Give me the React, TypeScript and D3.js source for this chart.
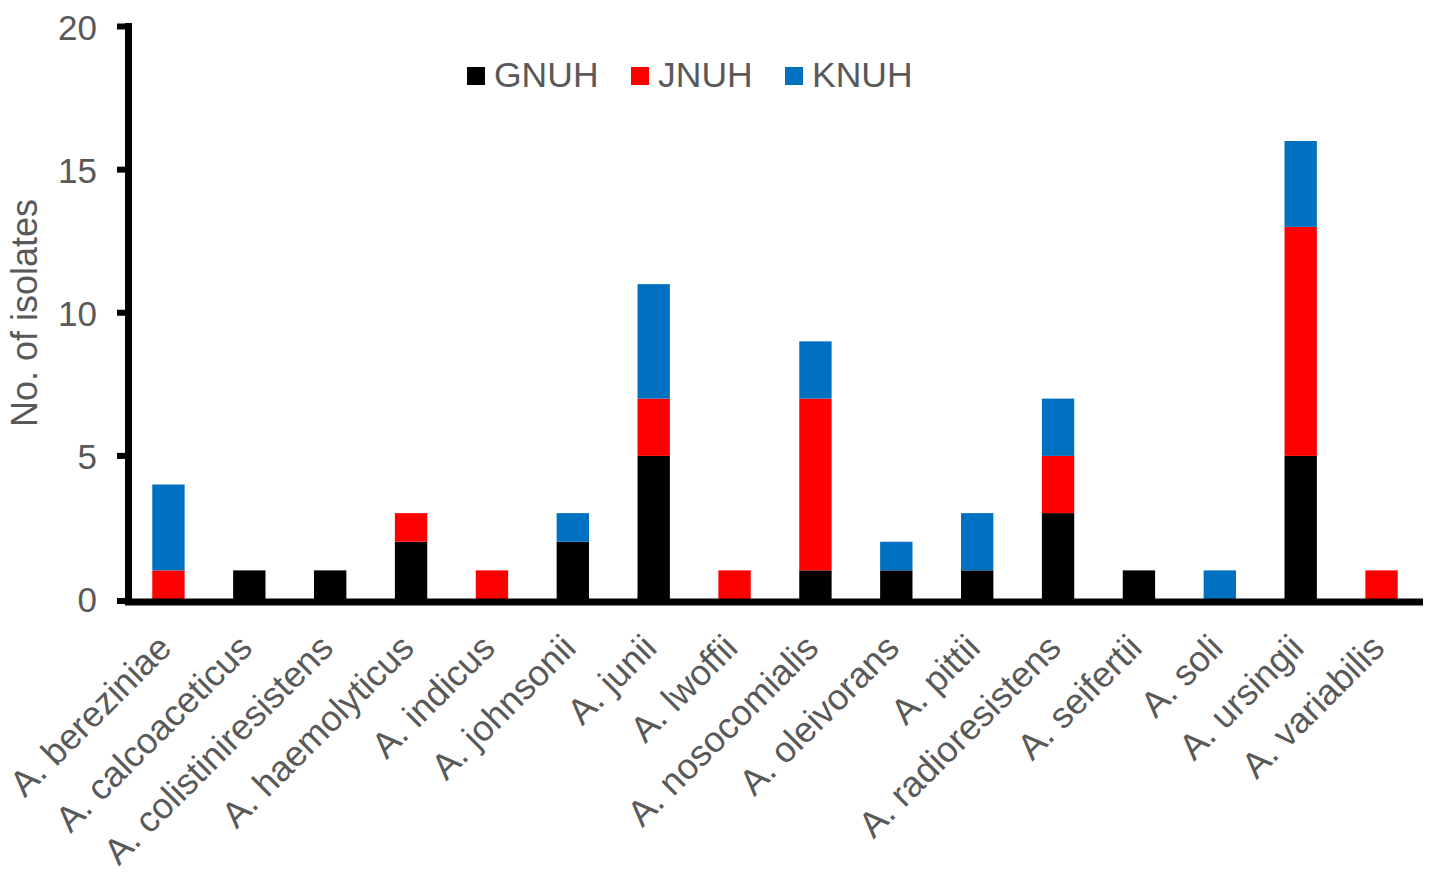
import React from 'react';
import * as d3 from 'd3';

const species = [
  'A. bereziniae', 'A. calcoaceticus', 'A. colistiniresistens', 'A. haemolyticus',
  'A. indicus', 'A. johnsonii', 'A. junii', 'A. lwoffii', 'A. nosocomialis',
  'A. oleivorans', 'A. pittii', 'A. radioresistens', 'A. seifertii', 'A. soli',
  'A. ursingii', 'A. variabilis',
];
const gnuh = [0, 1, 1, 2, 0, 2, 5, 0, 1, 1, 1, 3, 1, 0, 5, 0];
const jnuh = [1, 0, 0, 1, 1, 0, 2, 1, 6, 0, 0, 2, 0, 0, 8, 1];
const knuh = [3, 0, 0, 0, 0, 1, 4, 0, 2, 1, 2, 2, 0, 1, 3, 0];
const seriesNames = ['GNUH', 'JNUH', 'KNUH'];
const colors = ['#000000', '#ff0000', '#0070c0'];
const yTicks = [0, 5, 10, 15, 20];

const W = 1437;
const H = 882;
const gray = '#595959';
const font = 'Arial, "Liberation Sans", sans-serif';

export default function App() {
  // rows for the stack
  const rows = species.map((s, i) => ({ name: s, GNUH: gnuh[i], JNUH: jnuh[i], KNUH: knuh[i] }));
  const stacked = d3.stack<any>().keys(seriesNames)(rows);

  const x = d3.scaleBand().domain(species).range([128, 1422]).paddingInner(0.6).paddingOuter(0.3);
  const y = d3.scaleLinear().domain([0, 20]).range([599, 26.5]);

  return (
    <svg width={W} height={H} style={{ position: 'absolute', left: 0, top: 0, background: '#fff' }}>
      {stacked.map((layer, li) => (
        <g key={layer.key} fill={colors[li]}>
          {layer.map((d, i) =>
            d[1] - d[0] > 0 ? (
              <rect key={i} x={x(species[i])} width={x.bandwidth()} y={y(d[1])} height={y(d[0]) - y(d[1])} />
            ) : null
          )}
        </g>
      ))}

      {/* axes */}
      <line x1={128.5} x2={128.5} y1={23} y2={605} stroke="#000" strokeWidth={7} />
      <line x1={125} x2={1423} y1={602} y2={602} stroke="#000" strokeWidth={7} />
      {yTicks.map((t) => (
        <g key={t}>
          <line x1={117} x2={128} y1={y(t) + (t === 0 ? 2 : 0)} y2={y(t) + (t === 0 ? 2 : 0)} stroke="#000" strokeWidth={6} />
          <text x={97} y={y(t) + 1} dy="0.35em" textAnchor="end" fontFamily={font} fontSize={35} fill={gray}>
            {t}
          </text>
        </g>
      ))}

      {/* category labels */}
      {species.map((s) => {
        const cx = (x(s) as number) + x.bandwidth() / 2;
        return (
          <text key={s} transform={`translate(${cx + 5},${650}) rotate(-45)`} textAnchor="end"
            fontFamily={font} fontSize={36} fill={gray}>
            {s}
          </text>
        );
      })}

      <text transform={`translate(37,${313}) rotate(-90)`} textAnchor="middle" fontFamily={font} fontSize={36} fill={gray}>
        No. of isolates
      </text>

      {/* legend */}
      {seriesNames.map((n, i) => {
        const lx = [467, 631, 785][i];
        return (
          <g key={n}>
            <rect x={lx} y={67} width={18} height={18} fill={colors[i]} />
            <text x={lx + 27} y={87} fontFamily={font} fontSize={35.5} fill={gray}>{n}</text>
          </g>
        );
      })}
    </svg>
  );
}
